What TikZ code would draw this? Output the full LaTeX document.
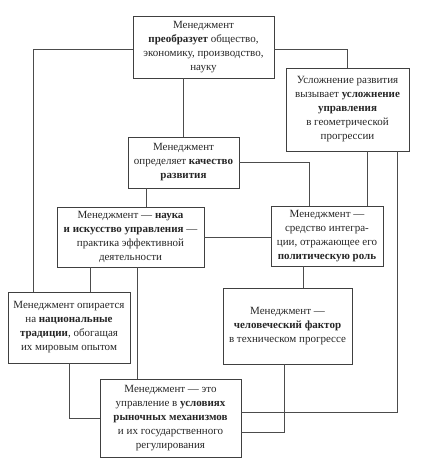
\documentclass[tikz,border=0pt]{standalone}
\usepackage{fontspec}
\setmainfont{Liberation Serif}
\usepackage{tikz}

\begin{document}
\begin{tikzpicture}[x=1pt, y=-1pt,
    blk/.style={draw=black!75, line width=0.8pt, align=center, inner sep=0pt,
      font=\fontsize{11}{14}\selectfont, text=black!85},
    lnk/.style={draw=black!70, line width=0.8pt}]
    \useasboundingbox (0,0) rectangle (428,474);
    % boxes
    \node (top) at (203.5,47) [blk, minimum width=141pt, minimum height=62pt]
      {Менеджмент\\ \textbf{преобразует} общество,\\ экономику, производство,\\ науку};
    \node (usl) at (347.5,109.5) [blk, minimum width=123pt, minimum height=83pt]
      {Усложнение развития\\ вызывает \textbf{усложнение}\\ \textbf{управления}\\ в геометрической\\ прогрессии};
    \node (kach) at (183.5,162.5) [blk, minimum width=111pt, minimum height=51pt]
      {Менеджмент\\ определяет \textbf{качество}\\ \textbf{развития}};
    \node (nauka) at (130.5,237) [blk, minimum width=147pt, minimum height=60pt]
      {Менеджмент — \textbf{наука}\\ \textbf{и искусство управления} —\\ практика эффективной\\ деятельности};
    \node (integ) at (327,236) [blk, minimum width=112pt, minimum height=60pt]
      {Менеджмент —\\ средство интегра-\\ ции, отражающее его\\ \textbf{политическую роль}};
    \node (trad) at (69,327.5) [blk, minimum width=122pt, minimum height=71pt]
      {Менеджмент опирается\\ на \textbf{национальные}\\ \textbf{традиции}, обогащая\\ их мировым опытом};
    \node (chel) at (287.5,326) [blk, minimum width=129pt, minimum height=76pt]
      {Менеджмент —\\ \textbf{человеческий фактор}\\ в техническом прогрессе};
    \node (bot) at (170.5,418) [blk, minimum width=141pt, minimum height=78pt]
      {Менеджмент — это\\ управление в \textbf{условиях}\\ \textbf{рыночных механизмов}\\ и их государственного\\ регулирования};
    % links
    \draw[lnk] ([yshift=-2pt]top.west) -| ([xshift=26pt]trad.north west);
    \draw[lnk] ([yshift=-2pt]top.east) -| (usl.north);
    \draw[lnk] (kach.north) -- (kach.north |- top.south);
    \draw[lnk] (kach.east) -| ([xshift=39pt]integ.north west);
    \draw[lnk] ([xshift=19.5pt]usl.south) -- ([xshift=19.5pt]usl.south |- integ.north);
    \draw[lnk] ([xshift=49.5pt]usl.south) |- ([yshift=6pt]bot.east);
    \draw[lnk] ([xshift=-37.5pt]kach.south) -- ([xshift=-37.5pt]kach.south |- nauka.north);
    \draw[lnk] (nauka.east) -- (integ.west |- nauka.east);
    \draw[lnk] ([xshift=-40.5pt]nauka.south) -- ([xshift=-40.5pt]nauka.south |- trad.north);
    \draw[lnk] ([xshift=6.5pt]nauka.south) -- ([xshift=6.5pt]nauka.south |- bot.north);
    \draw[lnk] (trad.south) |- (bot.west);
    \draw[lnk] ([xshift=-24pt]integ.south) -- ([xshift=-24pt]integ.south |- chel.north);
    \draw[lnk] ([xshift=-3.5pt]chel.south) |- ([yshift=-14pt]bot.east);
\end{tikzpicture}
\end{document}
